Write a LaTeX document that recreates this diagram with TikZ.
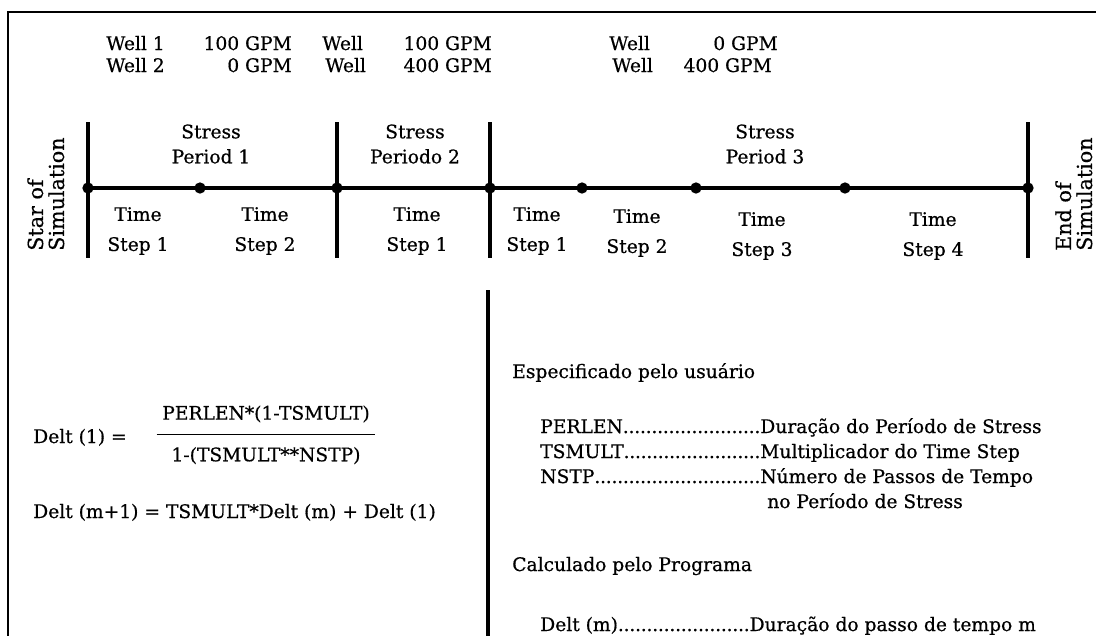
\documentclass[tikz,border=0pt]{standalone}
\usepackage{fontspec}
\setmainfont{DejaVu Serif}[FakeBold=0.6]
\usetikzlibrary{positioning}
\newcommand\dotlead{\xleaders\hbox to 4.2pt{\hss.\hss}\hfill}
\newcommand\listrow[3][165pt]{\makebox[#1][l]{#2\dotlead}#3}
\tikzset{txt/.style={font=\fontsize{14}{18.75}\selectfont,inner sep=0pt},lft/.style={txt,anchor=base west},rgt/.style={txt,anchor=base east},pair/.style={txt,align=center},steps/.style={txt,align=center,font=\fontsize{14}{22.5}\selectfont},side/.style={txt,rotate=90,align=left,anchor=north west,font=\fontsize{15.5}{15.75}\selectfont},dot/.style={circle,fill=black,inner sep=0pt,minimum size=8.5pt},axis/.style={line width=2.3pt},bar/.style={line width=2.5pt},frame/.style={line width=1.5pt}}

\begin{document}
\begin{tikzpicture}[x=0.75pt,y=-0.75pt]
\useasboundingbox (0,0) rectangle (1096,636);
\fill[white] (0,0) rectangle (1096,636);
\draw[frame] (1096,12) -- (8,12) -- (8,636);
% well rates
\node[lft] (w1a) at (106,50) {Well 1};\node[rgt] (q1a) at (292,50) {100 GPM};
\node[lft] (w1b) at (322,50) {Well};\node[rgt] (q1b) at (492,50) {100 GPM};
\node[lft] (w1c) at (609,50) {Well};\node[rgt] (q1c) at (778,50) {0 GPM};
\node[lft] (w2a) at (106,72) {Well 2};\node[rgt] (q2a) at (292,72) {0 GPM};
\node[lft] (w2b) at (325,72) {Well};\node[rgt] (q2b) at (492,72) {400 GPM};
\node[lft] (w2c) at (612,72) {Well};\node[rgt] (q2c) at (772,72) {400 GPM};
% time line
\coordinate (top) at (0,122);\coordinate (bot) at (0,258);
\foreach \n/\x in {1/88,2/200,3/337,4/490,5/582,6/696,7/845,8/1028}
  \node[dot] (d\n) at (\x,188) {};
\draw[axis] (d1.center) -- (d8.center);
\foreach \n in {1,3,4,8} \draw[bar] (d\n |- top) -- (d\n |- bot);
\node[pair] (sp1) at (211,144) {Stress\\Period 1};
\node[pair] (sp2) at (415,144) {Stress\\Periodo 2};
\node[pair] (sp3) at (765,144) {Stress\\Period 3};
\node[steps] (ts1) at (138,231) {Time\\Step 1};
\node[steps] (ts2) at (265,231) {Time\\Step 2};
\node[steps] (ts3) at (417,231) {Time\\Step 1};
\node[steps] (ts4) at (537,231) {Time\\Step 1};
\node[steps] (ts5) at (637,233) {Time\\Step 2};
\node[steps] (ts6) at (762,236) {Time\\Step 3};
\node[steps] (ts7) at (933,236) {Time\\Step 4};
\node[side] (start) at (27,251) {Star of\\Simulation};
\node[side] (end) at (1055,251) {End of\\Simulation};
% formulas
\draw[bar] (488,290) -- (488,636);
\node[lft] (lhs) at (33,443) {Delt (1) =};
\node[txt] (num) at (266,414) {PERLEN*(1-TSMULT)};
\node[txt,below=18pt of num] (den) {1-(TSMULT**NSTP)};
\path (num.south) -- (den.north) coordinate[midway] (mid);
\draw[line width=0.8pt] ([xshift=-4pt]mid -| num.west) -- ([xshift=4pt]mid -| num.east);
\node[lft] (rec) at (33,518) {Delt (m+1) = TSMULT*Delt (m) + Delt (1)};
% variables
\node[lft] (user) at (512,378) {Especificado pelo usuário};
\node[lft] (perlen) at (540,433) {\listrow{PERLEN}{Duração do Período de Stress}};
\node[lft] (tsmult) at (540,458) {\listrow{TSMULT}{Multiplicador do Time Step}};
\node[lft] (nstp) at (540,483) {\listrow{NSTP}{Número de Passos de Tempo}};
\node[lft] (nstp2) at (767,508) {no Período de Stress};
\node[lft] (prog) at (512,571) {Calculado pelo Programa};
\node[lft] (delt) at (540,631) {\listrow[157pt]{Delt (m)}{Duração do passo de tempo m}};
\end{tikzpicture}
\end{document}
